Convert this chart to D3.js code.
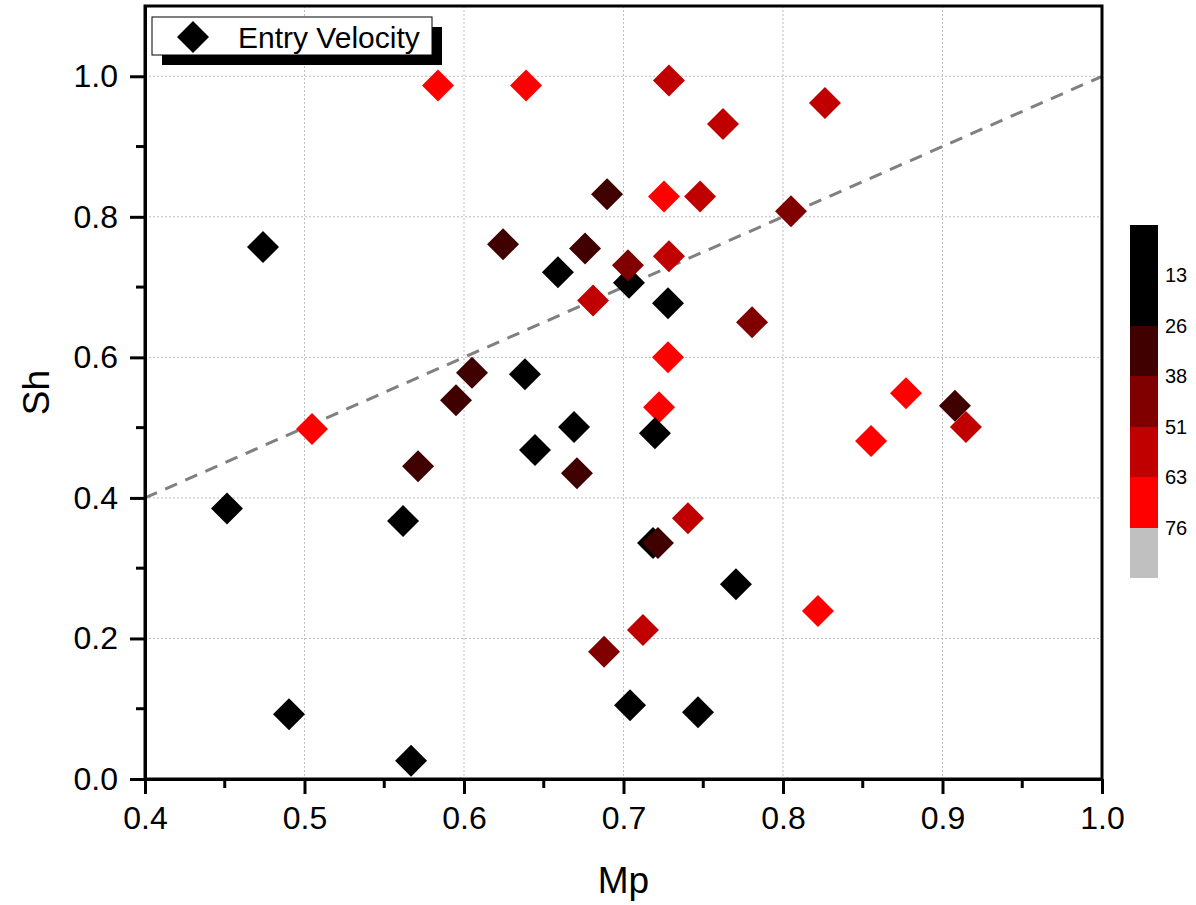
<!DOCTYPE html>
<html>
<head>
    <title>Sh vs Mp</title>
    <style>
        body { margin: 0; background: #fff; }
        text { font-family: "Liberation Sans", Arial, sans-serif; }
    </style>
</head>
<body>
<script src="https://d3js.org/d3.v7.min.js"></script>
<script>
    var width = 1196,
        height = 905;

    // Mp, Sh and entry velocity for every point
    var mp = [0.5837, 0.6389, 0.7285, 0.8263, 0.7624, 0.6897, 0.7254, 0.7480, 0.8050, 0.4740,
              0.6245, 0.6759, 0.7034, 0.7028, 0.7285, 0.6589, 0.6809, 0.7279, 0.7806, 0.7279,
              0.6382, 0.6050, 0.5950, 0.9078, 0.9147, 0.8771, 0.8552, 0.7223, 0.7197, 0.6690,
              0.6445, 0.6708, 0.5712, 0.5047, 0.4514, 0.5618, 0.7404, 0.7185, 0.7216, 0.7705,
              0.8219, 0.7122, 0.6878, 0.4903, 0.5668, 0.7041, 0.7467];
    var sh = [0.987, 0.987, 0.994, 0.962, 0.932, 0.832, 0.829, 0.829, 0.808, 0.757,
              0.761, 0.755, 0.706, 0.731, 0.744, 0.721, 0.681, 0.677, 0.650, 0.600,
              0.576, 0.578, 0.539, 0.531, 0.501, 0.549, 0.481, 0.529, 0.492, 0.501,
              0.468, 0.435, 0.445, 0.498, 0.385, 0.367, 0.371, 0.336, 0.336, 0.277,
              0.239, 0.212, 0.181, 0.092, 0.026, 0.105, 0.095];
    var velocity = [70, 68, 58, 56, 55, 32, 72, 57, 45, 18,
                    33, 31, 20, 44, 54, 15, 56, 22, 46, 69,
                    21, 34, 30, 35, 58, 71, 66, 67, 19, 17,
                    16, 33, 32, 73, 14, 20, 59, 12, 31, 23,
                    70, 55, 42, 15, 19, 21, 18];

    var levels = [13, 26, 38, 51, 63, 76];
    var levelColors = ['#000000', '#000000', '#400000', '#800000', '#c00000', '#ff0000', '#c0c0c0'];

    var xTicks = [0.4, 0.5, 0.6, 0.7, 0.8, 0.9, 1.0];
    var yTicks = [0.0, 0.2, 0.4, 0.6, 0.8, 1.0];
    var fitLine = [[0.4, 0.4], [1.0, 1.0]]; // y = x reference

    var plotLeft = 145, plotRight = 1102, plotTop = 6, plotBottom = 779;

    var x = d3.scaleLinear().domain([0.4, 1.0]).range([plotLeft, plotRight]);
    var y = d3.scaleLinear().domain([0, 1.1]).range([plotBottom, plotTop]);
    var color = d3.scaleThreshold().domain(levels).range(levelColors);

    var svg = d3.select('body').append('svg')
            .attr('width', width)
            .attr('height', height);

    // grid
    svg.append('g').selectAll('line')
            .data(xTicks.slice(1, -1))
            .enter().append('line')
            .attr('x1', function (d) { return x(d); })
            .attr('x2', function (d) { return x(d); })
            .attr('y1', plotTop).attr('y2', plotBottom)
            .attr('stroke', '#bdbdbd').attr('stroke-width', 1)
            .attr('stroke-dasharray', '2,2');
    svg.append('g').selectAll('line')
            .data(yTicks.slice(1))
            .enter().append('line')
            .attr('y1', function (d) { return y(d); })
            .attr('y2', function (d) { return y(d); })
            .attr('x1', plotLeft).attr('x2', plotRight)
            .attr('stroke', '#bdbdbd').attr('stroke-width', 1)
            .attr('stroke-dasharray', '2,2');

    // dashed reference line
    svg.append('path')
            .datum(fitLine)
            .attr('d', d3.line().x(function (d) { return x(d[0]); }).y(function (d) { return y(d[1]); }))
            .attr('fill', 'none')
            .attr('stroke', '#808080')
            .attr('stroke-width', 3)
            .attr('stroke-dasharray', '13,9');

    // points
    var diamond = 'M0,-16L16,0L0,16L-16,0Z';
    svg.append('g').selectAll('path')
            .data(d3.range(mp.length))
            .enter().append('path')
            .attr('d', diamond)
            .attr('transform', function (i) { return 'translate(' + x(mp[i]) + ',' + y(sh[i]) + ')'; })
            .attr('fill', function (i) { return color(velocity[i]); });

    // minor ticks
    svg.append('g').selectAll('line')
            .data([0.45, 0.55, 0.65, 0.75, 0.85, 0.95])
            .enter().append('line')
            .attr('x1', function (d) { return x(d); })
            .attr('x2', function (d) { return x(d); })
            .attr('y1', plotBottom).attr('y2', plotBottom + 9)
            .attr('stroke', '#000').attr('stroke-width', 3);
    svg.append('g').selectAll('line')
            .data([0.1, 0.3, 0.5, 0.7, 0.9])
            .enter().append('line')
            .attr('y1', function (d) { return y(d); })
            .attr('y2', function (d) { return y(d); })
            .attr('x1', plotLeft).attr('x2', plotLeft - 9)
            .attr('stroke', '#000').attr('stroke-width', 3);

    // axes
    var xAxis = svg.append('g')
            .attr('transform', 'translate(0,' + plotBottom + ')')
            .call(d3.axisBottom(x).tickValues(xTicks).tickFormat(d3.format('.1f'))
                    .tickSize(15).tickSizeOuter(0).tickPadding(12));
    var yAxis = svg.append('g')
            .attr('transform', 'translate(' + plotLeft + ',0)')
            .call(d3.axisLeft(y).tickValues(yTicks).tickFormat(d3.format('.1f'))
                    .tickSize(15).tickSizeOuter(0).tickPadding(12));
    [xAxis, yAxis].forEach(function (a) {
        a.selectAll('path, line').attr('stroke', '#000').attr('stroke-width', 3);
        a.selectAll('text').attr('font-size', 32).attr('fill', '#000')
                .style('font-family', '"Liberation Sans", Arial, sans-serif');
    });

    // frame
    svg.append('rect')
            .attr('x', plotLeft).attr('y', plotTop)
            .attr('width', plotRight - plotLeft).attr('height', plotBottom - plotTop)
            .attr('fill', 'none').attr('stroke', '#000').attr('stroke-width', 3);

    // axis titles
    svg.append('text')
            .attr('x', (plotLeft + plotRight) / 2).attr('y', 893)
            .attr('text-anchor', 'middle').attr('font-size', 37)
            .text('Mp');
    svg.append('text')
            .attr('transform', 'translate(49,' + (plotTop + plotBottom) / 2 + ') rotate(-90)')
            .attr('text-anchor', 'middle').attr('font-size', 37)
            .text('Sh');

    // legend
    svg.append('rect')
            .attr('x', 162).attr('y', 27).attr('width', 280).attr('height', 38)
            .attr('fill', '#000');
    svg.append('rect')
            .attr('x', 152).attr('y', 17).attr('width', 280).attr('height', 38)
            .attr('fill', '#fff').attr('stroke', '#000').attr('stroke-width', 1);
    svg.append('path')
            .attr('d', diamond)
            .attr('transform', 'translate(193,37)')
            .attr('fill', '#000');
    svg.append('text')
            .attr('x', 238).attr('y', 48)
            .attr('font-size', 30)
            .text('Entry Velocity');

    // colour bar
    var barY = d3.scaleLinear().domain([0, levelColors.length]).range([225, 578]);
    svg.append('g').selectAll('rect')
            .data(levelColors)
            .enter().append('rect')
            .attr('x', 1130)
            .attr('y', function (d, i) { return Math.round(barY(i)); })
            .attr('width', 28)
            .attr('height', function (d, i) { return Math.round(barY(i + 1)) - Math.round(barY(i)); })
            .attr('shape-rendering', 'crispEdges')
            .attr('fill', function (d) { return d; });
    svg.append('g').selectAll('text')
            .data(levels)
            .enter().append('text')
            .attr('x', 1165)
            .attr('y', function (d, i) { return barY(i + 1) + 7; })
            .attr('font-size', 20)
            .text(function (d) { return d; });
</script>
</body>
</html>
